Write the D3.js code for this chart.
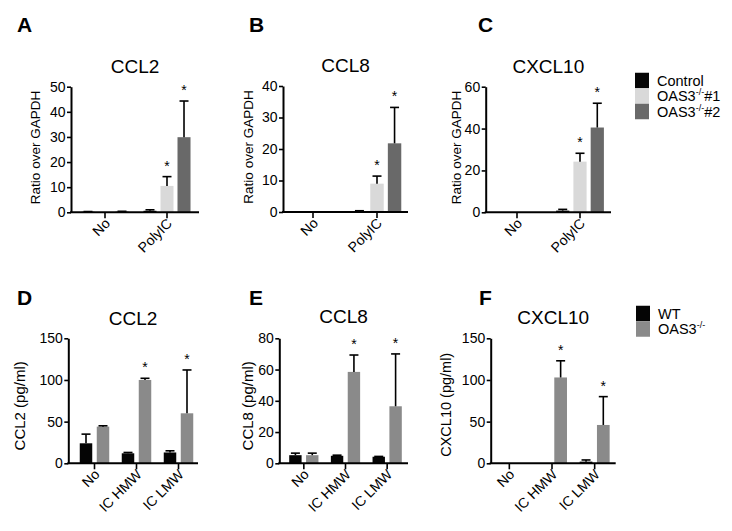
<!DOCTYPE html>
<html><head><meta charset="utf-8">
<script src="https://cdn.jsdelivr.net/npm/d3@7"></script>
<style>
body{margin:0;background:#fff}
text{font-family:"Liberation Sans",Arial,sans-serif;fill:#000}
</style></head>
<body>
<svg id="chart" width="732" height="531"></svg>
<script>
// ---------- data ----------
const topGroups = ["No", "PolyIC"];
const topSeries = ["Control", "OAS3-/-#1", "OAS3-/-#2"];
const botGroups = ["No", "IC HMW", "IC LMW"];
const botSeries = ["WT", "OAS3-/-"];

// values are [group][series]
const ccl2Ratio    = [[0.2, 0.1, 0.3], [0.6, 10.5, 29.9]];
const ccl2RatioErr = [[0.3, 0.1, 0.4], [1.0, 14.2, 44.3]];
const ccl2RatioSig = [[0, 0, 0], [0, 1, 1]];

const ccl8Ratio    = [[0.05, 0.05, 0.05], [0.3, 9.0, 21.8]];
const ccl8RatioErr = [[0.05, 0.05, 0.05], [0.4, 11.4, 33.2]];
const ccl8RatioSig = [[0, 0, 0], [0, 1, 1]];

const cxcl10Ratio    = [[0.05, 0.05, 0.05], [0.8, 24.2, 40.5]];
const cxcl10RatioErr = [[0.05, 0.05, 0.05], [1.4, 28.2, 52.1]];
const cxcl10RatioSig = [[0, 0, 0], [0, 1, 1]];

const ccl2Pg    = [[24, 44], [12, 100], [13, 60]];
const ccl2PgErr = [[35, 45], [13, 102], [15, 112]];
const ccl2PgSig = [[0, 0], [0, 1], [0, 1]];

const ccl8Pg    = [[5.2, 5.2], [4.8, 58.5], [4.2, 36.5]];
const ccl8PgErr = [[6.5, 6.5], [5.2, 69.3], [4.4, 70.0]];
const ccl8PgSig = [[0, 0], [0, 1], [0, 1]];

const cxcl10Pg    = [[0, 0], [0, 103], [2, 46]];
const cxcl10PgErr = [[0, 0], [0, 123], [4, 80]];
const cxcl10PgSig = [[0, 0], [0, 1], [0, 1]];

const topTicksA = [0, 10, 20, 30, 40, 50];
const topTicksB = [0, 10, 20, 30, 40];
const topTicksC = [0, 20, 40, 60];
const botTicksD = [0, 50, 100, 150];
const botTicksE = [0, 20, 40, 60, 80];
const botTicksF = [0, 50, 100, 150];

// ---------- styles ----------
const topColors = ["#050505", "#d9d9d9", "#696969"];
const botColors = ["#050505", "#8a8a8a"];

const svg = d3.select("#chart");

function panel(cfg, groups, series, means, errs, sigs, ticks, colors) {
  const g = svg.append("g");
  const y = d3.scaleLinear().domain([0, ticks[ticks.length - 1]]).range([cfg.yb, cfg.yt]);
  const xg = d3.scaleBand().domain(groups).range([cfg.g0, cfg.g1]);
  const xs = d3.scaleBand().domain(series).range([0, xg.bandwidth()])
    .paddingInner(cfg.pi).paddingOuter(cfg.po);

  // bars
  groups.forEach((gr, i) => {
    series.forEach((s, j) => {
      const v = means[i][j], e = errs[i][j];
      const bx = xg(gr) + xs(s), bw = xs.bandwidth(), cx = bx + bw / 2;
      g.append("rect").attr("x", bx).attr("y", y(v)).attr("width", bw)
        .attr("height", Math.max(0, cfg.yb - y(v))).attr("fill", colors[j]);
      if (e > v + 0.001) {
        g.append("line").attr("x1", cx).attr("x2", cx).attr("y1", y(v)).attr("y2", y(e))
          .attr("stroke", "#000").attr("stroke-width", 1.6);
        g.append("line").attr("x1", cx - 4.5).attr("x2", cx + 4.5).attr("y1", y(e)).attr("y2", y(e))
          .attr("stroke", "#000").attr("stroke-width", 1.6);
      }
      if (sigs[i][j]) {
        g.append("text").attr("x", cx).attr("y", y(e) - 6).attr("text-anchor", "middle")
          .style("font-size", "14px").text("*");
      }
    });
  });

  // y axis
  const ya = g.append("g").attr("transform", `translate(${cfg.x0},0)`)
    .call(d3.axisLeft(y).tickValues(ticks).tickSize(4).tickSizeOuter(0).tickPadding(1.5));
  ya.select(".domain").attr("stroke-width", 2);
  ya.selectAll(".tick line").attr("stroke-width", 1.6);
  ya.selectAll(".tick text").style("font-size", "14px").style("font-family", '"Liberation Sans",Arial,sans-serif');

  // x axis
  const xa = g.append("g").attr("transform", `translate(0,${cfg.yb})`)
    .call(d3.axisBottom(xg).tickSize(6).tickSizeOuter(0));
  xa.select(".domain").remove();
  xa.selectAll(".tick line").attr("stroke-width", 1.6);
  xa.selectAll(".tick text").attr("y", null).attr("dy", null)
    .attr("text-anchor", "end")
    .attr("transform", "translate(6,12) rotate(-45)")
    .style("font-size", "14px").style("font-family", '"Liberation Sans",Arial,sans-serif');
  g.append("line").attr("x1", cfg.x0 - 1).attr("x2", cfg.x1).attr("y1", cfg.yb).attr("y2", cfg.yb)
    .attr("stroke", "#000").attr("stroke-width", 2);

  // title
  g.append("text").attr("x", (cfg.x0 + cfg.x1) / 2).attr("y", cfg.ty).attr("text-anchor", "middle")
    .style("font-size", "19px").text(cfg.title);
  // y label
  g.append("text").attr("transform", `translate(${cfg.lx},${(cfg.yb + cfg.yt) / 2 + cfg.ldy}) rotate(-90)`)
    .attr("text-anchor", "middle").attr("dominant-baseline", "central")
    .style("font-size", cfg.lfs + "px").text(cfg.ylabel);
  // letter
  g.append("text").attr("x", cfg.px).attr("y", cfg.py).style("font-size", "21px")
    .style("font-weight", "bold").text(cfg.letter);
}

const topP = { pi: 0.235, po: 0.44 };
const botP = { pi: 0.265, po: 0.368 };

panel({ ...topP, x0: 71, x1: 199, g0: 74, g1: 198, yb: 212.3, yt: 86.7, title: "CCL2", ty: 73,
  ylabel: "Ratio over GAPDH", lx: 35, ldy: -2, lfs: 13.5, letter: "A", px: 17, py: 32 },
  topGroups, topSeries, ccl2Ratio, ccl2RatioErr, ccl2RatioSig, topTicksA, topColors);
panel({ ...topP, x0: 283, x1: 408, g0: 281, g1: 409, yb: 212, yt: 86, title: "CCL8", ty: 72,
  ylabel: "Ratio over GAPDH", lx: 248, ldy: -2, lfs: 13.5, letter: "B", px: 249, py: 32 },
  topGroups, topSeries, ccl8Ratio, ccl8RatioErr, ccl8RatioSig, topTicksB, topColors);
panel({ ...topP, x0: 485.7, x1: 611, g0: 485.5, g1: 611.5, yb: 212.3, yt: 86.7, title: "CXCL10", ty: 73,
  ylabel: "Ratio over GAPDH", lx: 456, ldy: -2, lfs: 13.5, letter: "C", px: 478, py: 32 },
  topGroups, topSeries, cxcl10Ratio, cxcl10RatioErr, cxcl10RatioSig, topTicksC, topColors);

panel({ ...botP, x0: 68.3, x1: 198, g0: 73.5, g1: 199.5, yb: 463.3, yt: 338.3, title: "CCL2", ty: 325,
  ylabel: "CCL2 (pg/ml)", lx: 19, ldy: 5, lfs: 15, letter: "D", px: 17, py: 305 },
  botGroups, botSeries, ccl2Pg, ccl2PgErr, ccl2PgSig, botTicksD, botColors);
panel({ ...botP, x0: 279.3, x1: 408, g0: 283, g1: 408, yb: 463.3, yt: 338.3, title: "CCL8", ty: 323,
  ylabel: "CCL8 (pg/ml)", lx: 247, ldy: 5, lfs: 15, letter: "E", px: 249, py: 305 },
  botGroups, botSeries, ccl8Pg, ccl8PgErr, ccl8PgSig, botTicksE, botColors);
panel({ ...botP, x0: 490.7, x1: 615.7, g0: 488, g1: 616, yb: 463.3, yt: 338.3, title: "CXCL10", ty: 324,
  ylabel: "CXCL10 (pg/ml)", lx: 446, ldy: 4, lfs: 14.5, letter: "F", px: 479, py: 305 },
  botGroups, botSeries, cxcl10Pg, cxcl10PgErr, cxcl10PgSig, botTicksF, botColors);

// legends
function legend(items, colors, x, y0, step) {
  const lg = svg.append("g");
  items.forEach((name, i) => {
    const cy = y0 + i * step;
    lg.append("rect").attr("x", x).attr("y", cy - step / 2).attr("width", 14).attr("height", step)
      .attr("fill", colors[i]);
    const t = lg.append("text").attr("x", x + 22).attr("y", cy + 5).style("font-size", "14.5px");
    const m = name.match(/^(.*?)(-\/-)(.*)$/);
    if (m) {
      t.append("tspan").text(m[1]);
      t.append("tspan").attr("dy", -6).style("font-size", "9px").text(m[2]);
      t.append("tspan").attr("dy", 6).text(m[3]);
    } else t.text(name);
  });
}
legend(topSeries, topColors, 635, 80.5, 15.5);
legend(botSeries, botColors, 636, 313.5, 15.5);
</script>
</body></html>
